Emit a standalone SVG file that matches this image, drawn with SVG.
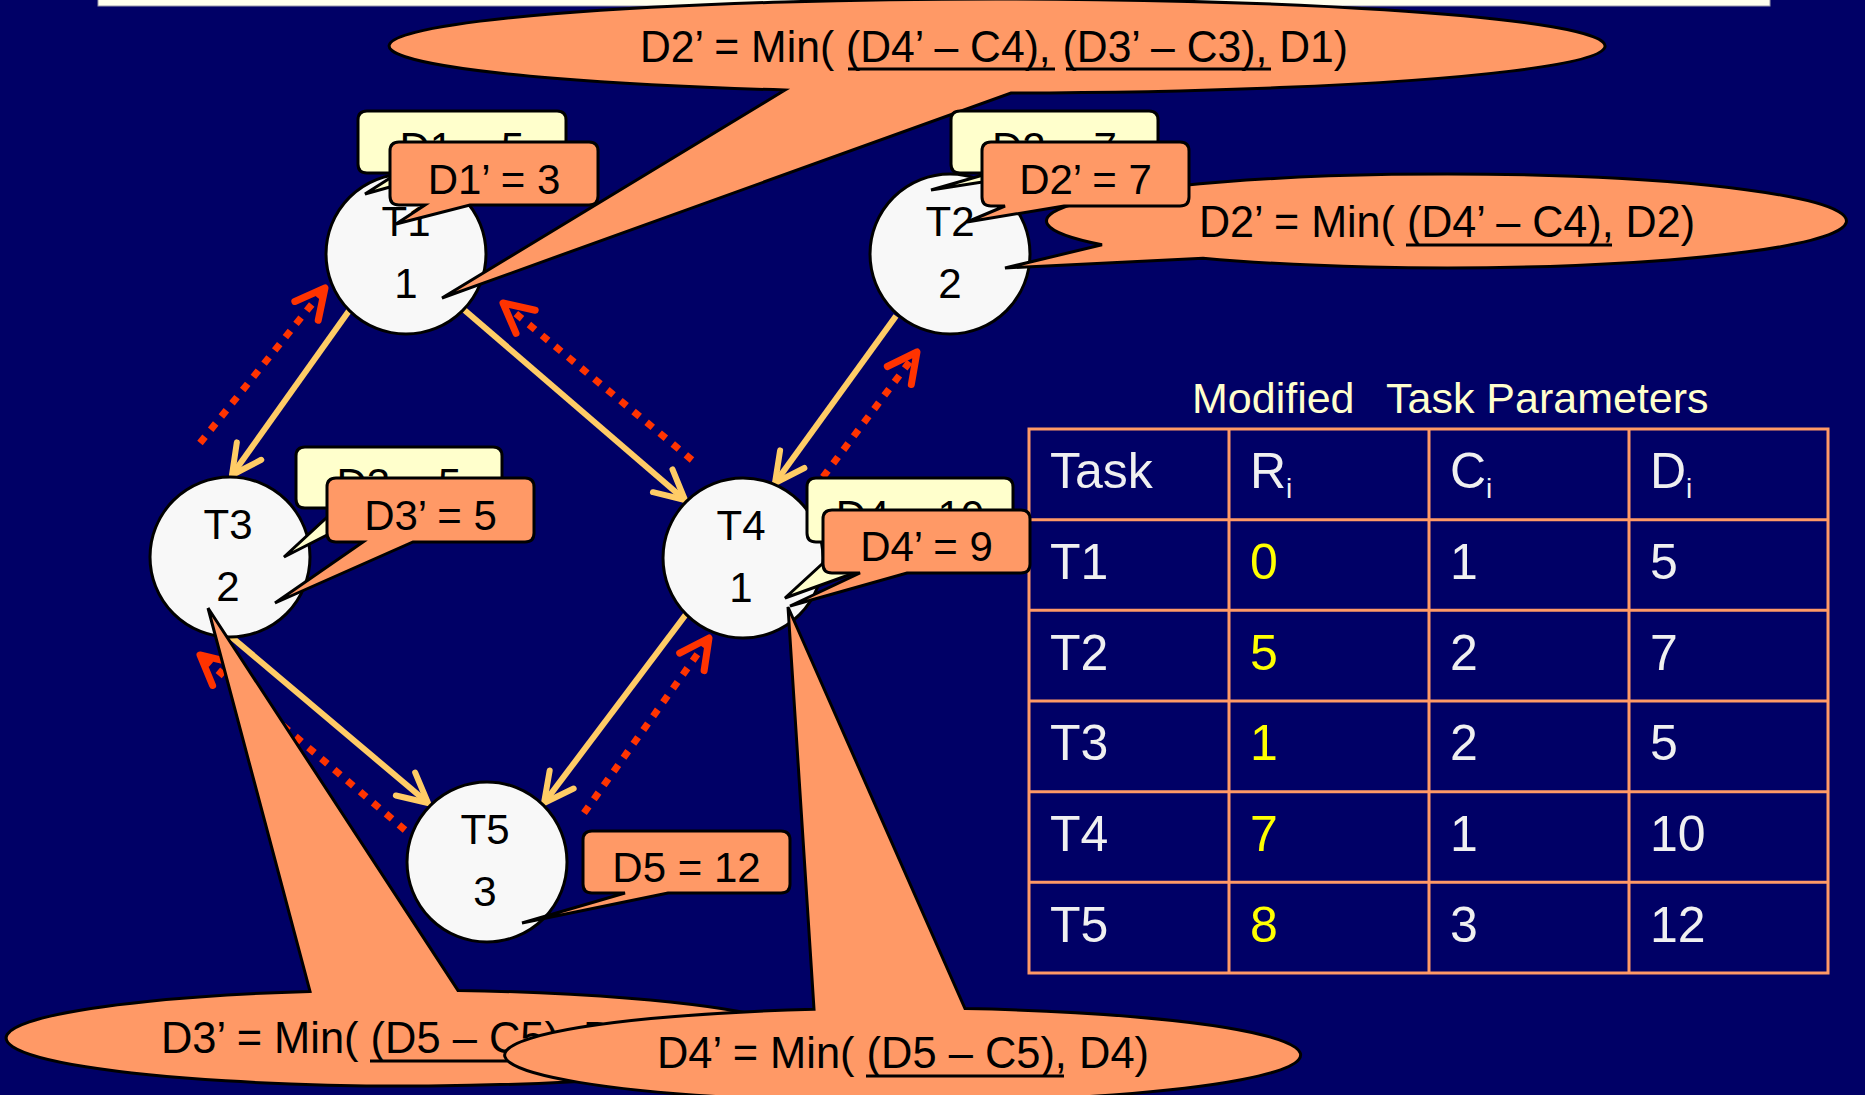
<svg xmlns="http://www.w3.org/2000/svg" width="1865" height="1095" viewBox="0 0 1865 1095">
<style>
.bg{fill:#000066}
.node circle{fill:#F8F8F8;stroke:#000;stroke-width:3}
.nt{font-family:"Liberation Sans",Arial,sans-serif;font-size:42px;fill:#000;text-anchor:middle}
.co{fill:#FF9966;stroke:#000;stroke-width:3;stroke-linejoin:miter}
.cy{fill:#FFFFCC;stroke:#000;stroke-width:3;stroke-linejoin:miter}
.ct{font-family:"Liberation Sans",Arial,sans-serif;font-size:42px;fill:#000;text-anchor:middle}
.bt{font-family:"Liberation Sans",Arial,sans-serif;font-size:44px;fill:#000}
.ul{stroke:#000;stroke-width:3}
.solid{stroke:#FFCC66;stroke-width:6;fill:none}
.dot{stroke:#FF3300;stroke-width:7;fill:none;stroke-dasharray:8 9}
.tbl{stroke:#FF9966;stroke-width:3;fill:none}
.tt{font-family:"Liberation Sans",Arial,sans-serif;font-size:50px;fill:#F0F0F0}
.ty{fill:#FFFF00}
.title{font-family:"Liberation Sans",Arial,sans-serif;font-size:43px;fill:#FFFFCC}
</style>
<defs>
<marker id="ahS" markerUnits="userSpaceOnUse" orient="auto" markerWidth="40" markerHeight="40" refX="0" refY="0" overflow="visible">
<path d="M-29.4,-15 L0,0 L-29.4,15" fill="none" stroke="#FFCC66" stroke-width="6" stroke-linecap="round" stroke-linejoin="round"/>
</marker>
<marker id="ahD" markerUnits="userSpaceOnUse" orient="auto" markerWidth="40" markerHeight="40" refX="0" refY="0" overflow="visible">
<path d="M-29.4,-15 L0,0 L-29.4,15" fill="none" stroke="#FF3300" stroke-width="7" stroke-linecap="round" stroke-linejoin="round" stroke-dasharray="none"/>
</marker>
</defs>
<rect class="bg" x="0" y="0" width="1865" height="1095"/>
<rect x="98" y="-3" width="1672" height="9" fill="#FFFFEE" stroke="#9999AA" stroke-width="1"/>

<g id="connectors">
<line class="solid" x1="351" y1="308" x2="232" y2="475" marker-end="url(#ahS)"/>
<line class="solid" x1="462" y1="308" x2="685" y2="500" marker-end="url(#ahS)"/>
<line class="solid" x1="896" y1="316" x2="775" y2="483" marker-end="url(#ahS)"/>
<line class="solid" x1="229" y1="635" x2="428" y2="803" marker-end="url(#ahS)"/>
<line class="solid" x1="687" y1="613" x2="544" y2="803" marker-end="url(#ahS)"/>
<line class="dot" x1="200" y1="443" x2="325" y2="288" marker-end="url(#ahD)"/>
<line class="dot" x1="692" y1="460" x2="503" y2="303" marker-end="url(#ahD)"/>
<line class="dot" x1="823" y1="477" x2="917" y2="352" marker-end="url(#ahD)"/>
<line class="dot" x1="405" y1="830" x2="200" y2="655" marker-end="url(#ahD)"/>
<line class="dot" x1="584" y1="813" x2="709" y2="638" marker-end="url(#ahD)"/>
</g>

<g id="node-T1" class="node"><circle cx="406" cy="254" r="80"/><text class="nt" x="406" y="236">T1</text><text class="nt" x="406" y="298">1</text></g>
<g id="node-T2" class="node"><circle cx="950" cy="254" r="80"/><text class="nt" x="950" y="236">T2</text><text class="nt" x="950" y="298">2</text></g>
<g id="node-T3" class="node"><circle cx="230" cy="557" r="80"/><text class="nt" x="228" y="539">T3</text><text class="nt" x="228" y="601">2</text></g>
<g id="node-T4" class="node"><circle cx="743" cy="558" r="80"/><text class="nt" x="741" y="540">T4</text><text class="nt" x="741" y="602">1</text></g>
<g id="node-T5" class="node"><circle cx="487" cy="862" r="80"/><text class="nt" x="485" y="844">T5</text><text class="nt" x="485" y="906">3</text></g>

<g id="table">
<text class="title" x="1192" y="413">Modified <tspan x="1386">Task Parameters</tspan></text>
<rect class="tbl" x="1029" y="429" width="799" height="544"/>
<path class="tbl" d="M1229,429 V973 M1429,429 V973 M1629,429 V973 M1029,519.7 H1828 M1029,610.3 H1828 M1029,701 H1828 M1029,791.7 H1828 M1029,882.3 H1828"/>
<text class="tt" x="1050" y="488">Task</text>
<text class="tt" x="1250" y="488">R<tspan dy="10" font-size="28">i</tspan></text>
<text class="tt" x="1450" y="488">C<tspan dy="10" font-size="28">i</tspan></text>
<text class="tt" x="1650" y="488">D<tspan dy="10" font-size="28">i</tspan></text>
<text class="tt" x="1050" y="579">T1</text><text class="tt ty" x="1250" y="579">0</text><text class="tt" x="1450" y="579">1</text><text class="tt" x="1650" y="579">5</text>
<text class="tt" x="1050" y="670">T2</text><text class="tt ty" x="1250" y="670">5</text><text class="tt" x="1450" y="670">2</text><text class="tt" x="1650" y="670">7</text>
<text class="tt" x="1050" y="760">T3</text><text class="tt ty" x="1250" y="760">1</text><text class="tt" x="1450" y="760">2</text><text class="tt" x="1650" y="760">5</text>
<text class="tt" x="1050" y="851">T4</text><text class="tt ty" x="1250" y="851">7</text><text class="tt" x="1450" y="851">1</text><text class="tt" x="1650" y="851">10</text>
<text class="tt" x="1050" y="942">T5</text><text class="tt ty" x="1250" y="942">8</text><text class="tt" x="1450" y="942">3</text><text class="tt" x="1650" y="942">12</text>
</g>

<g id="callout-top">
<path class="co" d="M785,90.05 L442,298 L1011,92.99 A608,47 0 1 0 785,90.05 Z"/>
<text class="bt" x="640" y="62" textLength="708" lengthAdjust="spacingAndGlyphs">D2’ = Min( (D4’ – C4), (D3’ – C3), D1)</text>
<path class="ul" d="M848,69 H1055 M1066,69 H1271"/>
</g>
<g id="callout-right">
<path class="co" d="M1102,244.8 L1005,268 L1203,258.2 A400,47 0 1 0 1102,244.8 Z"/>
<text class="bt" x="1199" y="237" font-size="43" textLength="496" lengthAdjust="spacingAndGlyphs">D2’ = Min( (D4’ – C4), D2)</text>
<path class="ul" d="M1406,245 H1612"/>
</g>
<g id="callout-D3min">
<path class="co" d="M310,991.4 L208,608 L458,990.4 A400,48 0 1 1 310,991.4 Z"/>
<text class="bt" x="161" y="1053" font-size="43" textLength="492" lengthAdjust="spacingAndGlyphs">D3’ = Min( (D5 – C5), D3)</text>
<path class="ul" d="M370,1061 H569"/>
</g>
<g id="callout-D4min">
<path class="co" d="M814,1009.2 L788,607 L965,1008.6 A398,47 0 1 1 814,1009.2 Z"/>
<text class="bt" x="657" y="1068" font-size="43" textLength="492" lengthAdjust="spacingAndGlyphs">D4’ = Min( (D5 – C5), D4)</text>
<path class="ul" d="M866,1076 H1064"/>
</g>

<g id="box-D1">
<path class="cy" d="M367 111 H557 Q566 111 566 120 V164 Q566 173 557 173 H440 L365 194 L398 173 H367 Q358 173 358 164 V120 Q358 111 367 111 Z"/>
<text class="ct" x="462" y="162">D1 = 5</text>
</g>
<g id="box-D1p">
<path class="co" d="M399 142 H589 Q598 142 598 151 V196 Q598 205 589 205 H470 L396 224 L425 205 H399 Q390 205 390 196 V151 Q390 142 399 142 Z"/>
<text class="ct" x="494" y="194">D1’ = 3</text>
</g>
<g id="box-D2">
<path class="cy" d="M960 111 H1149 Q1158 111 1158 120 V164 Q1158 173 1149 173 H1040 L931 190 L990 173 H960 Q951 173 951 164 V120 Q951 111 960 111 Z"/>
<text class="ct" x="1054.5" y="162">D2 = 7</text>
</g>
<g id="box-D2p">
<path class="co" d="M991 142 H1180 Q1189 142 1189 151 V197 Q1189 206 1180 206 H1064 L967 222 L1005 206 H991 Q982 206 982 197 V151 Q982 142 991 142 Z"/>
<text class="ct" x="1085.5" y="194">D2’ = 7</text>
</g>
<g id="box-D3">
<path class="cy" d="M305 447 H493 Q502 447 502 456 V499 Q502 508 493 508 H380 L284 557 L337 508 H305 Q296 508 296 499 V456 Q296 447 305 447 Z"/>
<text class="ct" x="399" y="498">D3 = 5</text>
</g>
<g id="box-D3p">
<path class="co" d="M336 478 H525 Q534 478 534 487 V533 Q534 542 525 542 H413 L275 603 L363 542 H336 Q327 542 327 533 V487 Q327 478 336 478 Z"/>
<text class="ct" x="430.5" y="530">D3’ = 5</text>
</g>
<g id="box-D4">
<path class="cy" d="M816 478 H1004 Q1013 478 1013 487 V533 Q1013 542 1004 542 H940 L785 598 L846 542 H816 Q807 542 807 533 V487 Q807 478 816 478 Z"/>
<text class="ct" x="910" y="530">D4 = 10</text>
</g>
<g id="box-D4p">
<path class="co" d="M832 510 H1021 Q1030 510 1030 519 V564 Q1030 573 1021 573 H907 L790 606 L860 573 H832 Q823 573 823 564 V519 Q823 510 832 510 Z"/>
<text class="ct" x="926.5" y="561">D4’ = 9</text>
</g>
<g id="box-D5">
<path class="co" d="M592 831 H781 Q790 831 790 840 V884 Q790 893 781 893 H668 L522 923 L625 893 H592 Q583 893 583 884 V840 Q583 831 592 831 Z"/>
<text class="ct" x="686.5" y="882">D5 = 12</text>
</g>
</svg>
